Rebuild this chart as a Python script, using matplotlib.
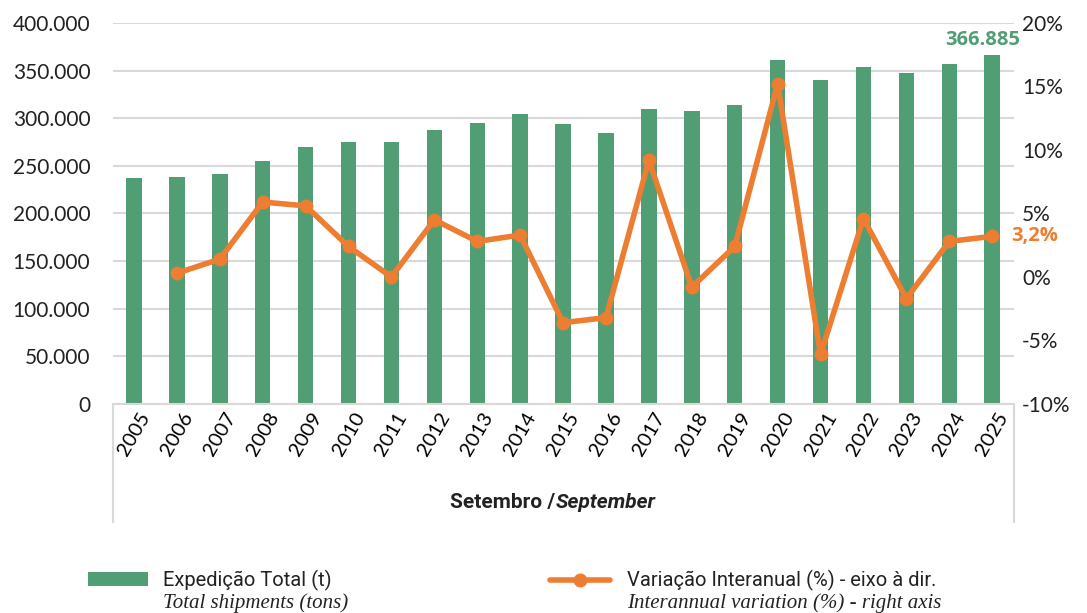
import matplotlib
matplotlib.use("Agg")
import matplotlib.pyplot as plt
from matplotlib.lines import Line2D
from matplotlib.patches import Rectangle
from matplotlib.ticker import FuncFormatter

anos = [str(a) for a in range(2005, 2026)]
expedicao = [237300, 238300, 241500, 255000, 270000, 275000, 275000, 287700,
             295000, 304500, 294000, 284500, 309700, 307600, 314000, 361000,
             340000, 354000, 347500, 357000, 366885]
variacao = [None, 0.3, 1.4, 5.9, 5.6, 2.4, 0.0, 4.5, 2.8, 3.3, -3.6, -3.2,
            9.2, -0.8, 2.4, 15.2, -6.1, 4.6, -1.7, 2.8, 3.2]

VERDE = "#519E74"
LARANJA = "#ED7D31"
CINZA = "#D9D9D9"
TICK_FONT = ["Lato", "DejaVu Sans"]

fig = plt.figure(figsize=(10.87, 6.13), dpi=100)
ax = fig.add_axes([0.1035, 0.341, 0.829, 0.6215])
x = list(range(len(anos)))
ax.bar(x, expedicao, width=0.36, color=VERDE, zorder=2)
ax.set_xlim(-0.5, len(anos) - 0.5)
ax.set_ylim(0, 400000)
ax.set_yticks(range(0, 400001, 50000))
ax.yaxis.set_major_formatter(FuncFormatter(lambda v, p: f"{int(v):,}".replace(",", ".")))
ax.grid(axis="y", color=CINZA, linewidth=1.5, zorder=0)
ax.set_axisbelow(True)
for s in ["top", "right", "left"]:
    ax.spines[s].set_visible(False)
ax.spines["bottom"].set_color(CINZA)
ax.spines["bottom"].set_linewidth(1.5)
ax.tick_params(axis="y", length=0, pad=16, labelsize=15, labelcolor="#222222")
ax.tick_params(axis="x", length=0, pad=4, labelsize=14.5)
ax.set_xticks(x)
ax.set_xticklabels(anos, rotation=60, ha="center", va="top")
for t in ax.get_xticklabels() + ax.get_yticklabels():
    t.set_family(TICK_FONT)

ax2 = ax.twinx()
xs = [i for i, v in zip(x, variacao) if v is not None]
vs = [v for v in variacao if v is not None]
ax2.plot(xs, vs, color=LARANJA, linewidth=4, marker="o", markersize=9, zorder=3)
ax2.set_ylim(-10, 20)
ax2.set_yticks(range(-10, 21, 5))
ax2.yaxis.set_major_formatter(FuncFormatter(lambda v, p: f"{int(v)}%"))
ax2.tick_params(axis="y", length=0, pad=6, labelsize=15, labelcolor="#222222")
for t in ax2.get_yticklabels():
    t.set_family(TICK_FONT)
for s in ax2.spines.values():
    s.set_visible(False)

ax.annotate(f"{expedicao[-1]:,}".replace(",", "."), (x[-1], expedicao[-1]),
            xytext=(-7, 3), textcoords="offset points", ha="center", va="bottom",
            color=VERDE, fontsize=14.5, fontweight="bold", family=["Open Sans", "DejaVu Sans"])
ax2.annotate(f"{variacao[-1]:.1f}%".replace(".", ","), (x[-1], variacao[-1]),
             xytext=(14, 0), textcoords="offset points", ha="left", va="center",
             color=LARANJA, fontsize=14.5, fontweight="bold", family=["Open Sans", "DejaVu Sans"])

# moldura do eixo de categorias (estilo Excel)
for xf in (0.1035, 0.9325):
    fig.add_artist(Line2D([xf, xf], [0.341, 0.148], color=CINZA, linewidth=1.5))

fig.text(0.5106, 0.181, "Setembro /", ha="right", va="center", fontsize=15,
         fontweight="bold", family=["Roboto", "DejaVu Sans"], color="#222222")
fig.text(0.5115, 0.181, "September", ha="left", va="center", fontsize=15,
         fontweight="bold", style="italic", family=["Roboto", "DejaVu Sans"], color="#222222")

# legenda
fig.add_artist(Rectangle((88 / 1087, 1 - 586 / 613), 60 / 1087, 14 / 613,
                         facecolor=VERDE, edgecolor="none"))
fig.text(163 / 1087, 1 - 580 / 613, "Expedição Total (t)", ha="left", va="center",
         fontsize=14.5, family=["Roboto", "DejaVu Sans"], color="#222222")
fig.text(163 / 1087, 1 - 603 / 613, "Total shipments (tons)", ha="left", va="center",
         fontsize=15, family=["Liberation Serif", "DejaVu Serif"], style="italic", color="#222222")
fig.add_artist(Line2D([550 / 1087, 610 / 1087], [1 - 580 / 613] * 2, color=LARANJA,
                      linewidth=4, solid_capstyle="round"))
fig.add_artist(Line2D([580 / 1087], [1 - 580 / 613], color=LARANJA, marker="o",
                      markersize=9, linestyle="none"))
fig.text(627 / 1087, 1 - 580 / 613, "Variação Interanual (%) - eixo à dir.", ha="left",
         va="center", fontsize=14.5, family=["Roboto", "DejaVu Sans"], color="#222222")
fig.text(627 / 1087, 1 - 603 / 613, "Interannual variation (%) - right axis", ha="left",
         va="center", fontsize=15, family=["Liberation Serif", "DejaVu Serif"],
         style="italic", color="#222222")

fig.savefig("out.png", facecolor="white")
